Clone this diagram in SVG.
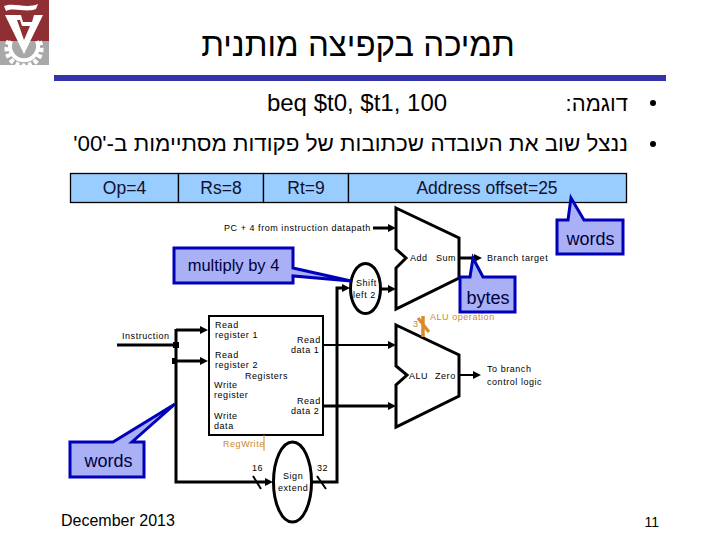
<svg xmlns="http://www.w3.org/2000/svg" width="720" height="540" viewBox="0 0 720 540">
<defs>
<marker id="a" markerUnits="userSpaceOnUse" markerWidth="9" markerHeight="8" refX="1" refY="4" orient="auto"><path d="M0 0L8 4L0 8Z" fill="#000"/></marker>
</defs>
<style>
text{font-family:"Liberation Sans",Arial,sans-serif;fill:#000}
.t{font-size:9px;letter-spacing:.55px}
.o{fill:#c98a30}
.m{font-size:17.500px;text-anchor:middle;fill:#101030}
.f{fill:#99ccff;stroke:#000;stroke-width:1.300}
.w{fill:none;stroke:#000;stroke-width:3}
.n{fill:none;stroke:#000;stroke-width:2}
.u{fill:#fff;stroke:#000;stroke-width:3}
.c{fill:#aab0f5;stroke:#0000b8;stroke-width:3}
.ct{font-size:18px;text-anchor:middle;fill:#000040}
.lg{fill:#fff}
</style>
<g id="logo">
<rect x="0" y="0" width="49" height="41" fill="#8f2e33"/>
<rect x="0" y="41" width="49" height="24" fill="#a8a8a8"/>
<path d="M9 41A17 17 0 1 0 39 41" fill="none" stroke="#fff" stroke-width="5" stroke-dasharray="4 2.500"/>
<path d="M11 41A14 14 0 1 0 37 41" fill="none" stroke="#fff" stroke-width="4"/>
<path class="lg" d="M4 6C14 2 26 9 38 4L36 9C26 13 14 7 6 11Z"/>
<path class="lg" d="M5 15H21L23 22H32L34 15H43L24 54ZM17 20L24 40L30 26H22L20 20Z" fill-rule="evenodd"/>
</g>
<g id="title">
<text x="358" y="56" font-size="33" text-anchor="middle" direction="rtl">תמיכה בקפיצה מותנית</text>
<rect x="54" y="75" width="612" height="6" fill="#3333aa"/>
</g>
<g id="body">
<text x="357" y="111" font-size="24" text-anchor="middle">beq $t0, $t1, 100</text>
<text x="628" y="111" font-size="22" direction="rtl">דוגמה:</text>
<circle cx="653" cy="103" r="3"/>
<text x="628" y="151" font-size="22.400" direction="rtl">ננצל שוב את העובדה שכתובות של פקודות מסתיימות ב-'00'</text>
<circle cx="653" cy="144" r="3"/>
</g>
<g id="instruction-format">
<rect class="f" x="70.500" y="173.500" width="108" height="29"/>
<rect class="f" x="178.500" y="173.500" width="85" height="29"/>
<rect class="f" x="263.500" y="173.500" width="85" height="29"/>
<rect class="f" x="348.500" y="173.500" width="278" height="29"/>
<text class="m" x="124.500" y="194">Op=4</text>
<text class="m" x="221" y="194">Rs=8</text>
<text class="m" x="306" y="194">Rt=9</text>
<text class="m" x="487" y="194">Address offset=25</text>
</g>
<g id="add">
<path class="u" d="M396 208L459 238V278L396 309V268L406 258L396 249Z"/>
<text class="t" x="410" y="261">Add</text><text class="t" x="436" y="261">Sum</text>
<text class="t" x="487" y="261">Branch target</text>
<text class="t" x="224" y="231">PC + 4 from instruction datapath</text>
</g>
<g id="shift-left">
<ellipse class="u" cx="365.500" cy="288.500" rx="15" ry="25"/>
<text class="t" x="356" y="286">Shift</text><text class="t" x="353" y="298">left 2</text>
</g>
<g id="alu">
<path class="u" d="M396 325L459 355V396L396 427V385L407 375L396 366Z"/>
<text class="t" x="409" y="379">ALU</text><text class="t" x="435" y="379">Zero</text>
<text class="t" x="487" y="372">To branch</text><text class="t" x="487" y="385">control logic</text>
<text class="t o" x="430" y="320">ALU operation</text>
<text class="t o" x="413" y="327">3</text>
</g>
<g id="registers">
<rect x="209" y="316" width="114" height="119" fill="#fff" stroke="#000" stroke-width="2"/>
<text class="t" x="215" y="328">Read</text><text class="t" x="215" y="338">register 1</text>
<text class="t" x="215" y="358">Read</text><text class="t" x="215" y="368">register 2</text>
<text class="t" x="245" y="379">Registers</text>
<text class="t" x="214" y="388">Write</text><text class="t" x="214" y="398">register</text>
<text class="t" x="214" y="419">Write</text><text class="t" x="214" y="429">data</text>
<text class="t" x="297" y="343">Read</text><text class="t" x="291" y="353">data 1</text>
<text class="t" x="297" y="404">Read</text><text class="t" x="291" y="414">data 2</text>
<text class="t o" x="223" y="447">RegWrite</text>
<text class="t" x="122" y="339">Instruction</text>
</g>
<g id="sign-extend">
<ellipse class="u" cx="292.500" cy="482" rx="19" ry="40"/>
<text class="t" x="283" y="479">Sign</text><text class="t" x="278" y="491">extend</text>
<text class="t" x="252" y="471">16</text><text class="t" x="317" y="471">32</text>
</g>
<g id="connectors">
<path class="w" d="M373 228H389" marker-end="url(#a)"/>
<path class="w" d="M459 258H475" marker-end="url(#a)"/>
<path class="w" d="M381 289H389" marker-end="url(#a)"/>
<path class="w" d="M311 482H337V288H343" marker-end="url(#a)"/>
<path class="w" d="M117 345H176"/>
<path class="w" d="M176 330H201" marker-end="url(#a)"/>
<path class="w" d="M176 329V482H266" marker-end="url(#a)"/>
<path class="w" d="M173 361H201" marker-end="url(#a)"/>
<path class="n" d="M323 345H389" marker-end="url(#a)"/>
<path class="w" d="M323 406H389" marker-end="url(#a)"/>
<path class="n" d="M459 375H474" marker-end="url(#a)"/>
<rect x="173" y="342" width="6" height="6"/>
<rect x="172" y="358" width="5" height="6"/>
<path class="n" d="M253 476L261 489M317 476L326 489"/>
<path d="M264 435V451" fill="none" stroke="#c98a30" stroke-width="1"/>
<path d="M423 337V316" fill="none" stroke="#d98a2b" stroke-width="3.500"/>
<path d="M418 318L429 332" fill="none" stroke="#d98a2b" stroke-width="3"/>
</g>
<g id="callouts">
<path class="c" d="M174 248H293V268L351 281L293 276V283H174Z"/>
<text class="ct" x="233.500" y="271" style="font-size:16.500px">multiply by 4</text>
<path class="c" d="M557 220H568L571 198L584 220H623V254H557Z"/>
<text class="ct" x="590.500" y="245">words</text>
<path class="c" d="M460 277H470L473 258L483 277H515V312H460Z"/>
<text class="ct" x="488" y="304">bytes</text>
<path class="c" d="M70 442H113L175 404L132 442H144V477H70Z"/>
<text class="ct" x="108.500" y="467">words</text>
</g>
<g id="footer">
<text x="61" y="526" font-size="16" fill="#333">December 2013</text>
<text x="659" y="527" font-size="14" text-anchor="end">11</text>
</g>
</svg>
